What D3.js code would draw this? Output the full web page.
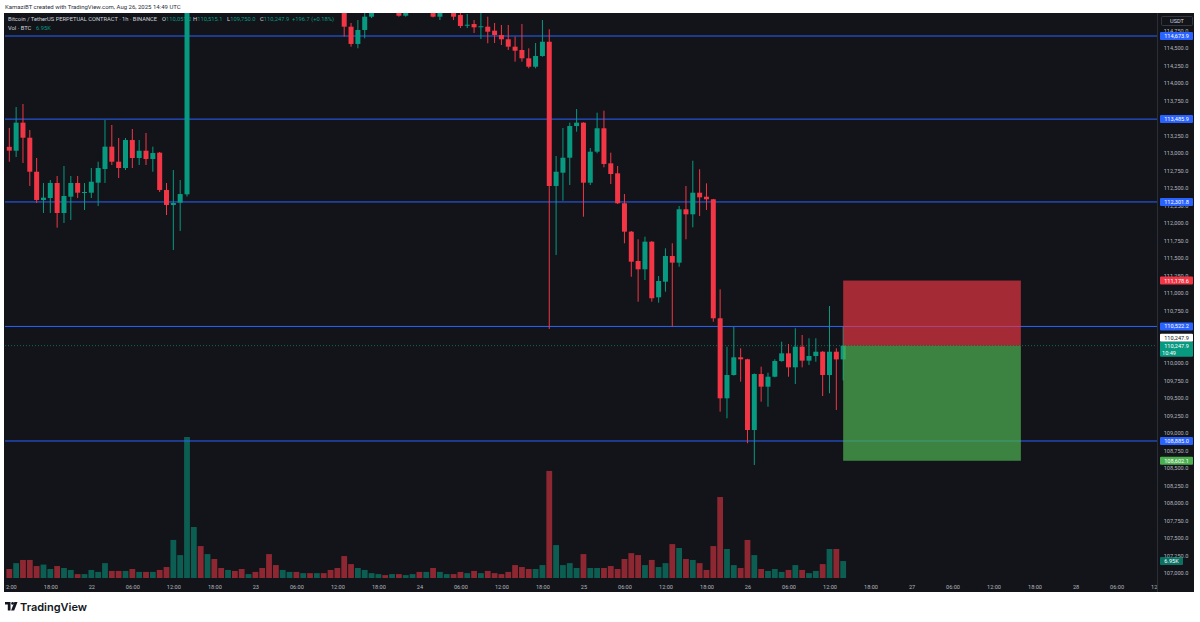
<!DOCTYPE html>
<html><head><meta charset="utf-8">
<script src="https://cdn.jsdelivr.net/npm/d3@7"></script>
<style>
body{margin:0;background:#fff;}
svg{display:block;font-family:Roboto,"Noto Sans",sans-serif;}
</style></head>
<body><svg id="c" width="1200" height="622"></svg>
<script>
// ---------- data (hourly candles, BTCUSDT perp, from Aug 21 12:00 UTC) ----------
const startTime = Date.UTC(2025, 7, 21, 12, 0);
const opens  = [113090,113034,113435,113220,112734,112330,112358,112573,112144,112377,
 112573,112434,112434,112577,112773,113092,112877,112787,113187,112930,
 113034,112916,113006,112473,112258,112291,112411,116600,116900,116500,
 116850,116600,116400,116700,116550,116400,116600,116350,116100,115600,
 115450,115600,115700,115600,115680,115600,115650,115550,115300,115150,
 114807,114560,114760,114950,115150,115350,115250,115400,114964,115200,
 115350,115200,115300,114950,115100,115200,114974,114828,114845,114807,
 114807,114750,114688,114627,114521,114474,114355,114235,114388,114592,
 112530,112720,112934,113387,113435,112577,113020,113355,112854,112711,
 112283,111877,111458,111339,111734,110939,111162,111529,111434,112197,
 112125,112434,112377,112340,110639,109495,109828,110081,110053,109042,
 109842,109661,109804,110028,110138,109938,110233,110033,110100,110161,
 109828,110161,110051.2];
const highs  = [113360,113659,113702,113330,112930,112573,112615,112673,112816,112673,
 112673,112573,112787,112877,113473,113402,113216,113216,113345,113187,
 113287,113092,113016,112573,112758,112615,116950,117100,117050,117000,
 116950,116700,116800,116800,116650,116700,116750,116450,116150,115750,
 115700,115800,115750,115750,115720,115700,115700,115600,115350,115250,
 114860,114903,115050,115250,115400,115420,115450,115450,115250,115400,
 115400,115350,115350,115150,115250,115250,115003,114988,114903,115003,
 114950,114860,114831,114831,114664,114845,114498,114574,114903,114770,
 112958,113359,113435,113630,113440,113073,113578,113606,113006,112816,
 112415,111887,111768,111805,111744,111243,111639,111711,112244,112530,
 112891,112769,112568,112345,111053,110233,110519,110210,110060,109850,
 109947,109861,110053,110304,110271,110496,110400,110353,110353,110170,
 110814,110210,110515.1];
const lows   = [112877,112944,112859,112530,112287,112144,112144,111934,112001,112044,
 112358,112187,112358,112244,112573,112830,112644,112758,112787,112830,
 112830,112734,112444,112115,111615,111887,112380,116300,116200,116400,
 116450,116250,116350,116450,116300,116350,116300,116000,115450,115300,
 115400,115550,115550,115550,115550,115500,115500,115250,115100,114664,
 114521,114498,114641,114930,115100,115200,115200,114950,114950,115150,
 115150,115150,114940,114902,115050,114902,114788,114788,114717,114631,
 114570,114574,114545,114474,114307,114307,114212,114212,114378,110486,
 111544,112320,112544,113306,112091,112544,112997,112797,112558,112272,
 111711,111233,110876,111186,110876,110862,111019,110519,111376,111768,
 111939,112101,112187,110590,109304,109209,109820,109733,108852,108542,
 109447,109375,109795,110018,109804,109700,109938,109971,110018,109528,
 109567,109328,109750.0];
const closes = [113035,113435,113220,112734,112330,112363,112573,112144,112387,112573,
 112434,112444,112591,112787,113092,112877,112787,113187,112930,113034,
 112916,113001,112473,112258,112287,112415,116600,116900,116500,116850,
 116600,116400,116700,116550,116400,116600,116350,116100,115600,115450,
 115600,115700,115600,115680,115600,115650,115550,115300,115150,114807,
 114560,114760,114950,115150,115350,115250,115400,114964,115200,115350,
 115200,115300,114950,115100,115200,114950,114817,114835,114798,114813,
 114735,114688,114627,114521,114464,114355,114235,114388,114592,112530,
 112734,112934,113387,113435,112577,113020,113355,112844,112701,112283,
 111877,111448,111339,111734,110925,111172,111529,111434,112197,112125,
 112434,112368,112340,110639,109495,109828,110081,110053,109042,109842,
 109661,109804,110028,110138,109938,110233,110033,110100,110161,109828,
 110161,110051.2,110247.9];
const volumesK = [3.7,6.1,7.4,7.4,4.9,5.5,3.7,4.9,4.1,3.3,
 1.6,1.6,3.3,2.5,6.1,2.9,2.9,2.9,3.7,2.5,
 2.5,2.5,3.3,4.5,15.6,9.4,57.8,20.9,13.1,9.8,
 7.8,4.1,3.3,2.9,3.7,1.6,2.5,4.1,9.8,5.3,
 3.3,2.5,2.5,2.0,2.0,2.0,2.0,3.3,4.1,9.0,
 5.7,4.1,3.3,2.0,1.6,1.2,1.6,1.6,1.2,1.6,
 2.5,2.5,4.1,2.5,1.6,1.6,2.5,2.0,2.9,2.0,
 2.9,2.0,1.6,2.5,5.3,4.5,3.7,3.7,5.3,43.9,
 13.5,5.3,6.1,4.1,9.8,4.1,4.1,4.1,4.9,3.7,
 7.8,10.2,9.4,5.3,7.4,4.5,6.1,13.9,12.3,7.8,
 7.4,6.1,3.3,13.1,33.2,11.9,5.3,4.1,15.6,9.4,
 3.7,2.9,3.7,2.5,3.3,5.3,3.3,2.0,2.9,5.7,
 11.9,11.9,6.95];

const levelPrices = [114673.9, 113485.9, 112301.8, 110522.2, 108885.0];
const stopPrice = 111178.6, entryPrice = 110247.9, targetPrice = 108602.1;
const positionStartHour = 122, positionEndHour = 148;
const priceTicks = d3.range(107000, 114751, 250);
const legendTitle = "Bitcoin / TetherUS PERPETUAL CONTRACT · 1h · BINANCE";
const legendChange = "+196.7 (+0.18%)";

// ---------- layout ----------
const svg = d3.select("#c");
const PL = 5, PR = 1157, PT = 13, PB = 578, AXR = 1194, AXB = 592;
const UP = "#089981", DOWN = "#f23645", BLUE = "#2962ff", BG = "#121419", TXT = "#b2b5be";
const hourMs = 3600e3;
const times = opens.map((_, i) => new Date(startTime + i * hourMs));

const x = d3.scaleUtc()
  .domain([new Date(startTime), new Date(startTime + 168 * hourMs)])
  .range([9.3, 9.3 + 6.835 * 168]);
const y = d3.scaleLinear().domain([106926.5, 115002.7]).range([PB, PT]);
const v = d3.scaleLinear().domain([0, d3.max(volumesK)]).range([PB, 437]);

svg.append("rect").attr("width", 1200).attr("height", 622).attr("fill", "#fff");
svg.append("text").attr("x", 5).attr("y", 9).attr("font-size", 6).attr("fill", "#2a2e39")
  .text("KamaziBT created with TradingView.com, Aug 26, 2025 14:49 UTC");
svg.append("rect").attr("x", 4).attr("y", PT).attr("width", AXR - 4).attr("height", AXB - PT).attr("fill", BG);

const defs = svg.append("defs");
defs.append("clipPath").attr("id", "plot").append("rect")
  .attr("x", PL).attr("y", PT).attr("width", PR - PL).attr("height", PB - PT);
defs.append("clipPath").attr("id", "taxis").append("rect")
  .attr("x", PL).attr("y", PB).attr("width", PR - PL).attr("height", AXB - PB);

// legend (drawn below candles)
const lg = svg.append("g").attr("font-size", 5.8);
lg.append("text").attr("x", 8).attr("y", 21).attr("fill", "#d1d4dc")
  .attr("textLength", 149).attr("lengthAdjust", "spacingAndGlyphs").text(legendTitle);
const ohlcX = [162, 193, 227, 260];
[["O", opens], ["H", highs], ["L", lows], ["C", closes]].forEach(([k, arr], j) => {
  const t = lg.append("text").attr("x", ohlcX[j]).attr("y", 21);
  t.append("tspan").attr("fill", "#d1d4dc").text(k);
  t.append("tspan").attr("fill", UP).text(d3.format(",.1f")(arr[arr.length - 1]));
});
lg.append("text").attr("x", 292).attr("y", 21).attr("fill", UP).text(legendChange);
const l2 = lg.append("text").attr("x", 8).attr("y", 30).attr("fill", "#d1d4dc");
l2.append("tspan").text("Vol · BTC");
l2.append("tspan").attr("x", 36).attr("fill", UP).text(volumesK[volumesK.length - 1] + "K");

const plot = svg.append("g").attr("clip-path", "url(#plot)");

// volume
plot.append("g").selectAll("rect").data(times).join("rect")
  .attr("x", (d) => x(d) - 2.9).attr("width", 5.8)
  .attr("y", (d, i) => v(volumesK[i])).attr("height", (d, i) => PB - v(volumesK[i]))
  .attr("fill", (d, i) => closes[i] >= opens[i] ? UP : DOWN).attr("opacity", 0.55);

// level lines
plot.append("g").selectAll("line").data(levelPrices).join("line")
  .attr("x1", PL).attr("x2", PR).attr("y1", (d) => y(d)).attr("y2", (d) => y(d))
  .attr("stroke", BLUE).attr("stroke-width", 1);

// current price line
plot.append("line").attr("x1", PL).attr("x2", PR).attr("y1", y(entryPrice)).attr("y2", y(entryPrice))
  .attr("stroke", UP).attr("stroke-width", 0.8).attr("stroke-dasharray", "1,2").attr("opacity", 0.8);

// candles
const cg = plot.append("g");
cg.selectAll("line").data(times).join("line")
  .attr("x1", (d) => x(d)).attr("x2", (d) => x(d))
  .attr("y1", (d, i) => y(highs[i])).attr("y2", (d, i) => y(lows[i]))
  .attr("stroke", (d, i) => closes[i] >= opens[i] ? UP : DOWN).attr("stroke-width", 1);
cg.selectAll("rect").data(times).join("rect")
  .attr("x", (d) => x(d) - 2.5).attr("width", 5)
  .attr("y", (d, i) => y(Math.max(opens[i], closes[i])))
  .attr("height", (d, i) => Math.max(1, Math.abs(y(opens[i]) - y(closes[i]))))
  .attr("fill", (d, i) => closes[i] >= opens[i] ? UP : DOWN);

// position box
const bx0 = x(new Date(startTime + positionStartHour * hourMs)), bx1 = x(new Date(startTime + positionEndHour * hourMs));
plot.append("rect").attr("x", bx0).attr("width", bx1 - bx0).attr("y", y(stopPrice))
  .attr("height", y(entryPrice) - y(stopPrice)).attr("fill", DOWN).attr("opacity", 0.65);
plot.append("rect").attr("x", bx0).attr("width", bx1 - bx0).attr("y", y(entryPrice))
  .attr("height", y(targetPrice) - y(entryPrice)).attr("fill", "#4caf50").attr("opacity", 0.72);

// price axis
svg.append("line").attr("x1", PR + 0.5).attr("x2", PR + 0.5).attr("y1", PT).attr("y2", AXB).attr("stroke", "#2a2e39");
const ya = svg.append("g").attr("transform", `translate(${PR + 19},0)`)
  .call(d3.axisRight(y).tickValues(priceTicks).tickSize(0).tickPadding(0).tickFormat(d3.format(",.1f")));
ya.select(".domain").remove();
ya.selectAll("text").attr("fill", TXT).attr("font-size", 5.6).attr("text-anchor", "middle")
  .attr("font-family", "Roboto,'Noto Sans',sans-serif");

function label(price, text, fill, color, yOff) {
  const cy = y(price) + (yOff || 0);
  const g = svg.append("g");
  g.append("rect").attr("x", PR + 3).attr("y", cy - 4).attr("width", 33).attr("height", 8).attr("fill", fill).attr("rx", 1);
  g.append("text").attr("x", PR + 19.5).attr("y", cy + 2).attr("text-anchor", "middle")
    .attr("font-size", 5.6).attr("fill", color).text(text);
}
levelPrices.forEach((p) => label(p, d3.format(",.1f")(p), BLUE, "#fff"));
label(stopPrice, d3.format(",.1f")(stopPrice), DOWN, "#fff");
label(targetPrice, d3.format(",.1f")(targetPrice), "#4caf50", "#fff");
label(entryPrice, d3.format(",.1f")(entryPrice), "#fff", "#131722", -8);
// last price with countdown
{
  const cy = y(entryPrice);
  svg.append("rect").attr("x", PR + 3).attr("y", cy - 4).attr("width", 33).attr("height", 15).attr("fill", UP).attr("rx", 1);
  svg.append("text").attr("x", PR + 19.5).attr("y", cy + 2).attr("text-anchor", "middle").attr("font-size", 5.6).attr("fill", "#fff")
    .text(d3.format(",.1f")(entryPrice));
  svg.append("text").attr("x", PR + 5).attr("y", cy + 9).attr("font-size", 5.6).attr("fill", "#fff").text("10:49");
}
// volume label
{
  const cy = v(volumesK[volumesK.length - 1]);
  svg.append("rect").attr("x", PR + 3).attr("y", cy - 4).attr("width", 23).attr("height", 8).attr("fill", UP).attr("opacity", 0.7).attr("rx", 1);
  svg.append("text").attr("x", PR + 14.5).attr("y", cy + 2).attr("text-anchor", "middle").attr("font-size", 5.6).attr("fill", "#fff")
    .text(volumesK[volumesK.length - 1] + "K");
}
// USDT box
svg.append("rect").attr("x", PR + 4.5).attr("y", 16.5).attr("width", 31).attr("height", 9).attr("fill", BG)
  .attr("stroke", "#434651").attr("stroke-width", 0.7).attr("rx", 1);
svg.append("text").attr("x", PR + 20).attr("y", 23).attr("text-anchor", "middle").attr("font-size", 5.6).attr("fill", "#d1d4dc").text("USDT");

// time axis
const fmt = (d) => (d.getUTCHours() === 0 ? d3.utcFormat("%-d")(d) : d3.utcFormat("%H:%M")(d));
const xa = svg.append("g").attr("clip-path", "url(#taxis)").append("g").attr("transform", `translate(0,${PB + 2})`)
  .call(d3.axisBottom(x).ticks(d3.utcHour.every(6)).tickSize(0).tickPadding(5).tickFormat(fmt));
xa.select(".domain").remove();
xa.selectAll("text").attr("fill", TXT).attr("font-size", 5.6).attr("font-family", "Roboto,'Noto Sans',sans-serif");

// TradingView logo
const logo = svg.append("g").attr("transform", "translate(5,602)").attr("fill", "#131722");
logo.append("path").attr("d", "M0 0 H5.5 V8.5 H2.8 V2.6 H0 Z");
logo.append("circle").attr("cx", 7.6).attr("cy", 1.4).attr("r", 1.4);
logo.append("path").attr("d", "M9.4 0 H12.5 L9.2 8.5 H6.1 Z");
svg.append("text").attr("x", 20).attr("y", 611).attr("font-size", 11).attr("font-weight", 600)
  .attr("fill", "#131722").attr("font-family", "Inter,Roboto,sans-serif").text("TradingView");
</script>
</body></html>
